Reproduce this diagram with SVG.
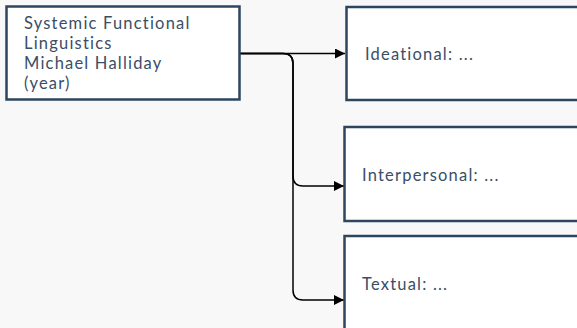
<svg xmlns="http://www.w3.org/2000/svg" width="577" height="328" viewBox="0 0 577 328">
<defs>
<style>
.node rect{fill:#ffffff;stroke:#2e4560;stroke-width:2.5}
.node text{font-family:Lato,"Open Sans","Liberation Sans",sans-serif;font-size:16.5px;letter-spacing:1.2px;fill:#3a4e66}
.edge{fill:none;stroke:#000;stroke-width:1.5}
</style>
<marker id="arr" viewBox="0 0 10 10" refX="10" refY="5" markerWidth="10" markerHeight="10" markerUnits="userSpaceOnUse" orient="auto">
<path d="M0,0 L10,5 L0,10 z" fill="#000"/>
</marker>
</defs>
<rect width="577" height="328" fill="#f8f8f8"/>
<g id="connectors">
<path class="edge" d="M240,53.5 H345" marker-end="url(#arr)"/>
<path class="edge" d="M240,53.5 H283 Q293,53.5 293,63.5 V176 Q293,186 303,186 H344" marker-end="url(#arr)"/>
<path class="edge" d="M240,53.5 H283 Q293,53.5 293,63.5 V290 Q293,300 303,300 H344" marker-end="url(#arr)"/>
</g>
<g id="node-sfl" class="node">
<rect x="6.5" y="6.5" width="233" height="93"/>
<text x="24" y="29">Systemic Functional</text>
<text x="24" y="49">Linguistics</text>
<text x="24" y="69">Michael Halliday</text>
<text x="24" y="89">(year)</text>
</g>
<g id="node-ideational" class="node">
<rect x="346.5" y="7" width="240" height="93"/>
<text x="365" y="60">Ideational: ...</text>
</g>
<g id="node-interpersonal" class="node">
<rect x="344.5" y="127" width="240" height="94"/>
<text x="362" y="180.5">Interpersonal: ...</text>
</g>
<g id="node-textual" class="node">
<rect x="344.5" y="236" width="240" height="100"/>
<text x="362" y="289.5">Textual: ...</text>
</g>
</svg>
